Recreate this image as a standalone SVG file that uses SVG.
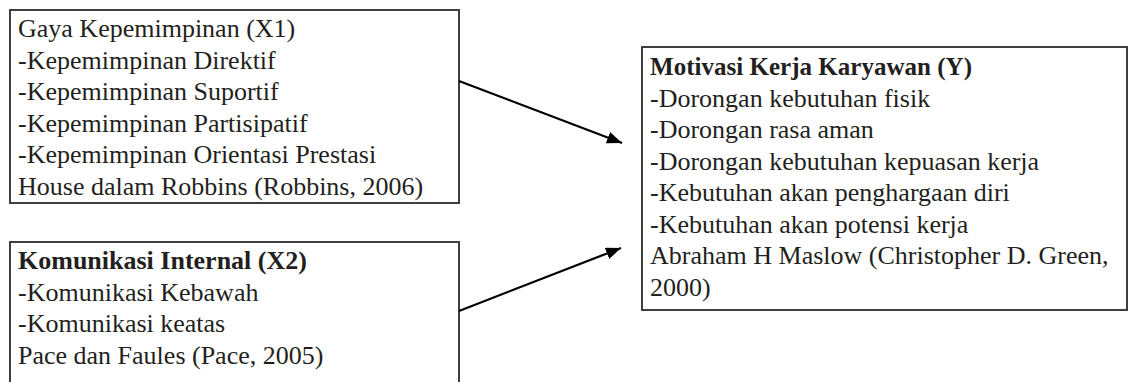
<svg xmlns="http://www.w3.org/2000/svg" width="1128" height="382" viewBox="0 0 1128 382">
  <style>
    .box { fill: #ffffff; stroke: #2b2b2b; stroke-width: 1.8; }
    .t { font-family: "Liberation Serif", "Times New Roman", serif; font-size: 26px; fill: #231f20; }
    .b { font-weight: bold; }
    .conn { stroke: #000000; stroke-width: 2.2; fill: none; marker-end: url(#arrow); }
  </style>
  <defs>
    <marker id="arrow" markerUnits="userSpaceOnUse" markerWidth="16" markerHeight="12" refX="15" refY="6" orient="auto">
      <path d="M0,0 L15,6 L0,12 z" fill="#000000"/>
    </marker>
  </defs>
  <rect width="1128" height="382" fill="#ffffff"/>

  <g id="node-x1">
    <rect class="box" x="10" y="10" width="449" height="193"/>
    <text class="t" x="18" y="37">Gaya Kepemimpinan (X1)</text>
    <text class="t" x="18" y="68.6">-Kepemimpinan Direktif</text>
    <text class="t" x="18" y="100.2">-Kepemimpinan Suportif</text>
    <text class="t" x="18" y="131.8">-Kepemimpinan Partisipatif</text>
    <text class="t" x="18" y="163.4">-Kepemimpinan Orientasi Prestasi</text>
    <text class="t" x="18" y="195">House dalam Robbins (Robbins, 2006)</text>
  </g>

  <g id="node-x2">
    <rect class="box" x="10" y="242" width="449" height="160"/>
    <text class="t b" x="18" y="269">Komunikasi Internal (X2)</text>
    <text class="t" x="18" y="300.5">-Komunikasi Kebawah</text>
    <text class="t" x="18" y="332">-Komunikasi keatas</text>
    <text class="t" x="18" y="363.5">Pace dan Faules (Pace, 2005)</text>
  </g>

  <g id="node-y">
    <rect class="box" x="642" y="47" width="485" height="263"/>
    <text class="t b" x="650" y="75" textLength="322" lengthAdjust="spacingAndGlyphs">Motivasi Kerja Karyawan (Y)</text>
    <text class="t" x="650" y="106.5">-Dorongan kebutuhan fisik</text>
    <text class="t" x="650" y="138">-Dorongan rasa aman</text>
    <text class="t" x="650" y="169.5">-Dorongan kebutuhan kepuasan kerja</text>
    <text class="t" x="650" y="201">-Kebutuhan akan penghargaan diri</text>
    <text class="t" x="650" y="232.5">-Kebutuhan akan potensi kerja</text>
    <text class="t" x="650" y="264">Abraham H Maslow (Christopher D. Green,</text>
    <text class="t" x="650" y="295.5">2000)</text>
  </g>

  <g id="connectors">
    <line class="conn" x1="459" y1="81" x2="622" y2="143"/>
    <line class="conn" x1="459" y1="311" x2="621" y2="248"/>
  </g>
</svg>
